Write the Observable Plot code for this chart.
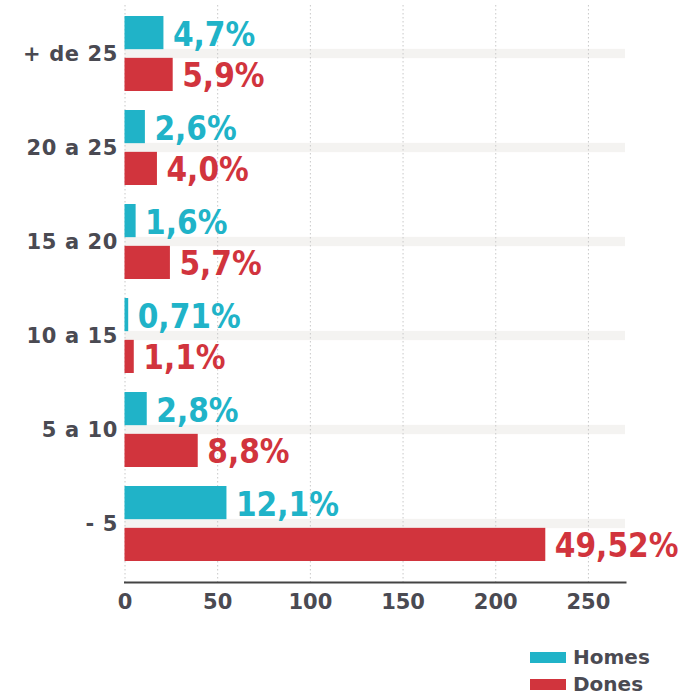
<!DOCTYPE html>
<html><head><meta charset="utf-8">
<script src="https://cdn.jsdelivr.net/npm/d3@7"></script>
<script src="https://cdn.jsdelivr.net/npm/@observablehq/plot@0.6"></script>
<style>
html,body{margin:0;padding:0;background:#fff;}
#chart svg{display:block;}
#chart svg g[aria-label="y-axis tick label"] text{letter-spacing:0.6px;}
.legend{position:relative;height:65px;width:686px;font-family:"DejaVu Sans",sans-serif;font-weight:bold;font-size:20px;color:#4a4a52;}
.legend .row{position:absolute;left:530px;display:flex;align-items:center;height:22px;}
.legend .sw{width:36px;height:11px;margin-right:7px;}
</style></head><body>
<div id="chart"></div>
<script>
const categories = ["+ de 25", "20 a 25", "15 a 20", "10 a 15", "5 a 10", "- 5"];
const series = ["Homes", "Dones"];
const homesValues = [21, 11, 6, 2, 12, 55];
const donesValues = [26, 17.5, 24.5, 5, 39.5, 227];
const homesLabels = ["4,7%", "2,6%", "1,6%", "0,71%", "2,8%", "12,1%"];
const donesLabels = ["5,9%", "4,0%", "5,7%", "1,1%", "8,8%", "49,52%"];
const xTicks = [0, 50, 100, 150, 200, 250];
const xMax = 270;
const colors = {Homes: "#20b3c8", Dones: "#d1343d"};

const homes = categories.map((c, i) => ({cat: c, v: homesValues[i], label: homesLabels[i]}));
const dones = categories.map((c, i) => ({cat: c, v: donesValues[i], label: donesLabels[i]}));

const yTop = 4.7, yBottom = 572.3;
const step = (yBottom - yTop) / categories.length;
const bw = step * 0.8;
const half = bw / 2;
const gap = 4;

const valueFont = {fontFamily: "'DejaVu Sans Condensed', 'DejaVu Sans', sans-serif", fontSize: 33, fontWeight: "bold"};

const chart = Plot.plot({
  width: 686,
  height: 630,
  marginLeft: 124.5,
  marginRight: 61,
  marginTop: 5,
  marginBottom: 48,
  style: {fontFamily: "'DejaVu Sans', sans-serif", background: "#fff", overflow: "visible"},
  x: {domain: [0, xMax]},
  y: {domain: categories, range: [yTop, yBottom], paddingInner: 0.2, paddingOuter: 0.1},
  marks: [
    Plot.barX(categories, {x1: 0, x2: xMax, y: d => d, fill: "#f4f3f1", insetTop: half - 5, insetBottom: half - 5}),
    Plot.ruleX(xTicks, {x: d => d, stroke: "#c8c8c8", strokeWidth: 1, strokeDasharray: "1.5,2.5"}),
    Plot.barX(homes, {x: "v", y: "cat", fill: colors.Homes, insetBottom: half + gap}),
    Plot.barX(dones, {x: "v", y: "cat", fill: colors.Dones, insetTop: half + gap}),
    Plot.text(homes, {x: "v", y: "cat", text: "label", fill: colors.Homes, textAnchor: "start", dx: 9, dy: -(half + gap) / 2 + 2, ...valueFont}),
    Plot.text(dones, {x: "v", y: "cat", text: "label", fill: colors.Dones, textAnchor: "start", dx: 9, dy: (half + gap) / 2 + 2, ...valueFont}),
    Plot.frame({anchor: "bottom", stroke: "#444", strokeWidth: 2}),
    Plot.axisX({ticks: xTicks, tickSize: 0, tickPadding: 12, tickFormat: d => String(d), fontSize: 21, fontWeight: "bold", fill: "#4a4a52", label: null}),
    Plot.axisY({tickSize: 0, tickPadding: 7, fontSize: 21, fontWeight: "bold", fill: "#4a4a52", label: null})
  ]
});
document.getElementById("chart").appendChild(chart);

const legend = document.createElement("div");
legend.className = "legend";
series.forEach((s, i) => {
  const row = document.createElement("div");
  row.className = "row";
  row.style.top = (16 + i * 27) + "px";
  const sw = document.createElement("div");
  sw.className = "sw";
  sw.style.background = colors[s];
  const t = document.createElement("span");
  t.textContent = s;
  row.appendChild(sw);
  row.appendChild(t);
  legend.appendChild(row);
});
document.body.appendChild(legend);
</script>
</body></html>
